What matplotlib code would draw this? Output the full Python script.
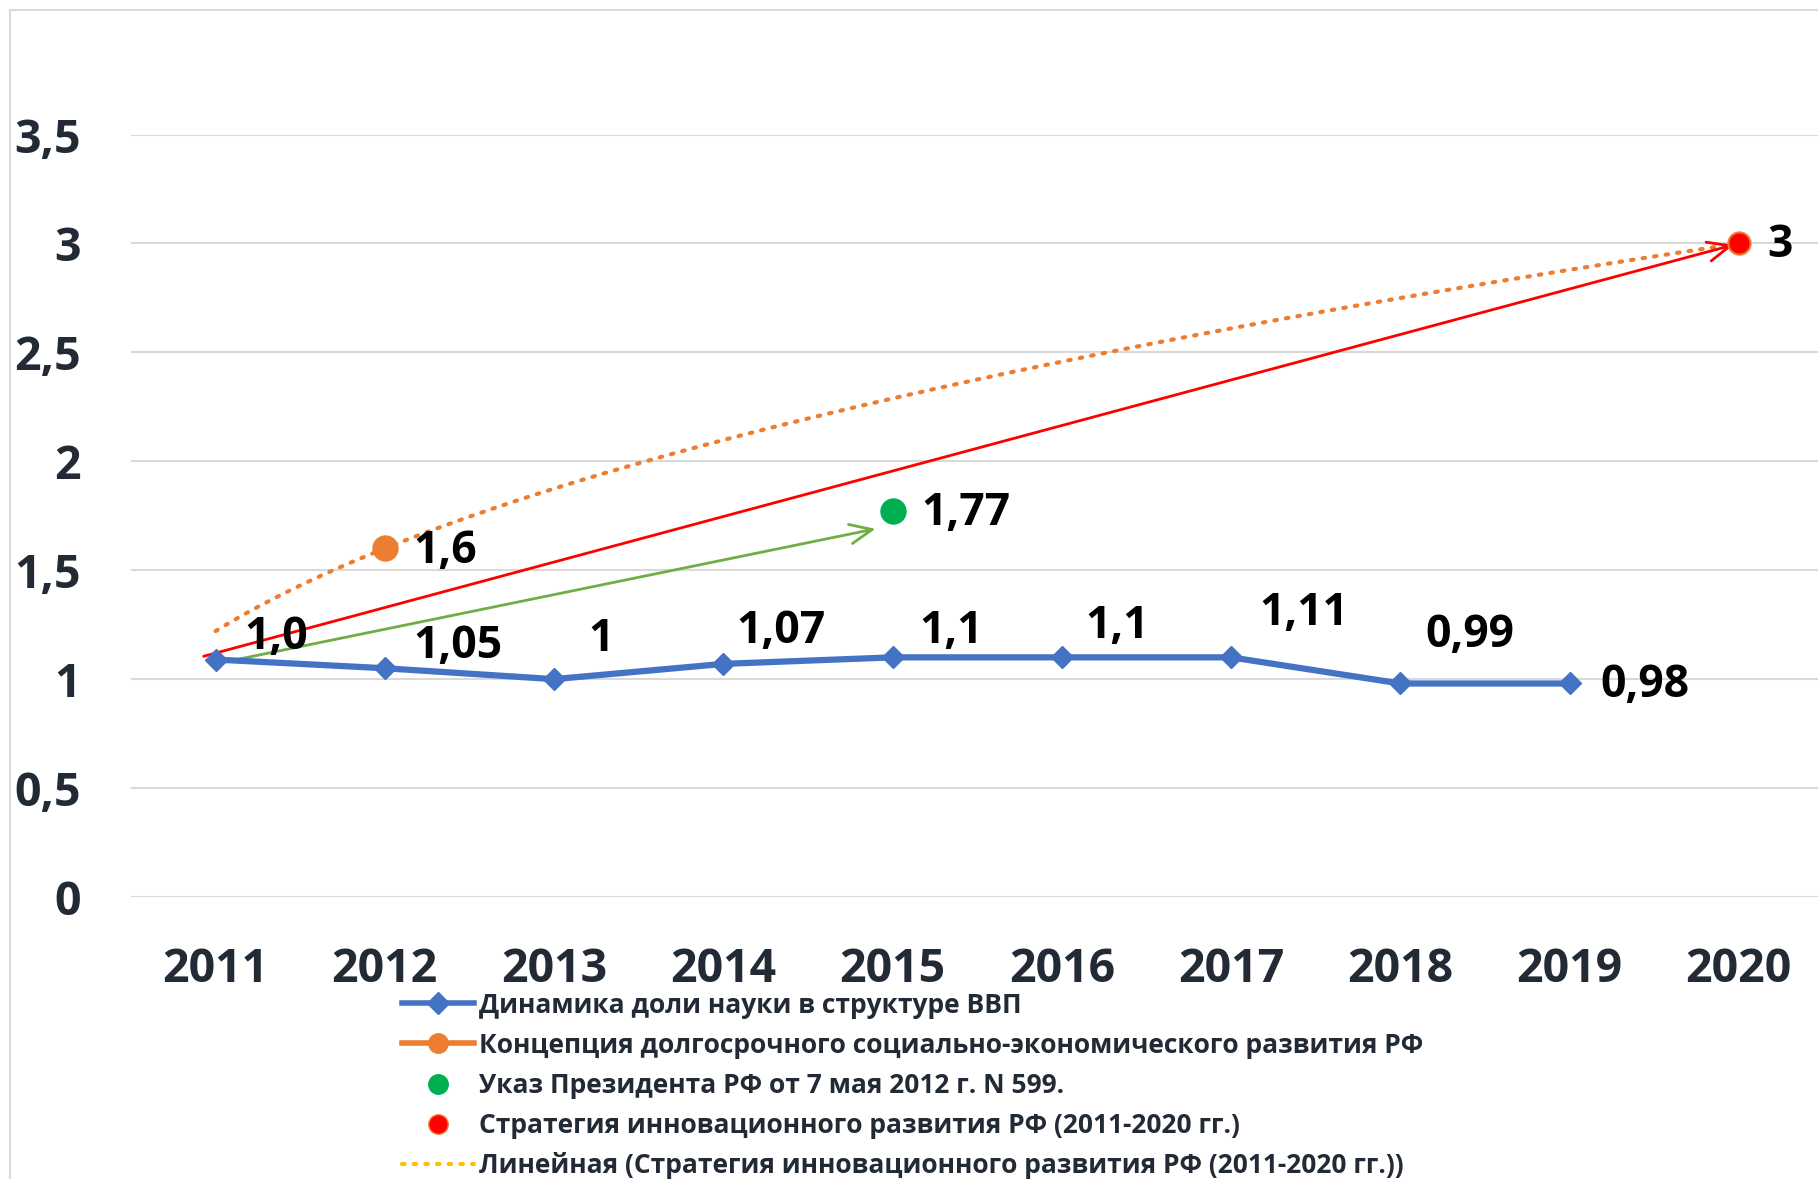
import numpy as np
import matplotlib
matplotlib.use("Agg")
import matplotlib.pyplot as plt
from matplotlib.lines import Line2D
from matplotlib.patches import Rectangle

plt.rcParams['font.family'] = ['Open Sans', 'DejaVu Sans']

# данные
years = [2011, 2012, 2013, 2014, 2015, 2016, 2017, 2018, 2019, 2020]
gdp_years = [2011, 2012, 2013, 2014, 2015, 2016, 2017, 2018, 2019]
gdp_share = [1.09, 1.05, 1.0, 1.07, 1.1, 1.1, 1.1, 0.98, 0.98]
gdp_labels = ['1,0', '1,05', '1', '1,07', '1,1', '1,1', '1,11', '0,99', '0,98']

concept_year, concept_value, concept_label = 2012, 1.6, '1,6'
decree_year, decree_value, decree_label = 2015, 1.77, '1,77'
strategy_year, strategy_value, strategy_label = 2020, 3.0, '3'

y_ticks = [0, 0.5, 1, 1.5, 2, 2.5, 3, 3.5]
y_ticklabels = ['0', '0,5', '1', '1,5', '2', '2,5', '3', '3,5']

legend_names = ['Динамика доли науки в структуре ВВП',
                'Концепция долгосрочного социально-экономического развития РФ',
                'Указ Президента РФ от 7 мая 2012 г. N 599.',
                'Стратегия инновационного развития РФ (2011-2020 гг.)',
                'Линейная (Стратегия инновационного развития РФ (2011-2020 гг.))']

# смещения подписей (в единицах данных)
gdp_label_dx = [0.17, 0.17, 0.2, 0.08, 0.16, 0.14, 0.17, 0.15, 0.18]
gdp_label_dy = [0.10, 0.10, 0.18, 0.15, 0.12, 0.14, 0.20, 0.22, -0.01]

blue = '#4472C4'
orange = '#ED7D31'
green = '#00B050'
red = '#FF0000'
txt = '#222a35'

fig = plt.figure(figsize=(18.18, 11.79), dpi=100)
ax = fig.add_axes([0.072, 0.2392, 0.931, 0.6467])

# рамка диаграммы
fig.patches.append(Rectangle((10 / 1818, -0.1), 1.2, 1 - 10 / 1179 + 0.1,
                             transform=fig.transFigure, fill=False,
                             edgecolor='#d9d9d9', linewidth=1.5, zorder=0))

ax.set_xlim(2010.5, 2020.5)
ax.set_ylim(0, 3.5)
for v in y_ticks:
    ax.axhline(v, color='#d9d9d9', linewidth=1.5, zorder=0)
for s in ax.spines.values():
    s.set_visible(False)
ax.set_yticks(y_ticks)
ax.set_yticklabels(y_ticklabels)
ax.set_xticks(years)
ax.set_xticklabels([str(y) for y in years])
ax.tick_params(axis='both', length=0, labelsize=33.5, labelcolor=txt)
ax.tick_params(axis='y', pad=36)
ax.tick_params(axis='x', pad=35)
for t in ax.get_xticklabels() + ax.get_yticklabels():
    t.set_fontweight('bold')

# степенная линия тренда через точки концепции и стратегии
xi = np.array([years.index(concept_year) + 1, years.index(strategy_year) + 1], dtype=float)
yi = np.array([concept_value, strategy_value])
b, lna = np.polyfit(np.log(xi), np.log(yi), 1)
xs = np.linspace(1, len(years), 200)
ax.plot(years[0] + xs - 1, np.exp(lna) * xs ** b, color=orange, linestyle=(0, (0.6, 2.2)),
        linewidth=3, dash_capstyle='round', zorder=2)

# стрелки
ax.annotate('', xy=(strategy_year, strategy_value), xytext=(years[0] - 0.07, gdp_share[0] + 0.015),
            arrowprops=dict(arrowstyle='->, head_length=0.8, head_width=0.35', color=red,
                            linewidth=2, shrinkA=0, shrinkB=4, mutation_scale=20), zorder=3)
ax.annotate('', xy=(decree_year - 0.1, decree_value - 0.08), xytext=(years[0], gdp_share[0] - 0.02),
            arrowprops=dict(arrowstyle='->, head_length=0.8, head_width=0.35', color='#70AD47',
                            linewidth=2, shrinkA=0, shrinkB=0, mutation_scale=20), zorder=3)

ax.plot(gdp_years, gdp_share, color=blue, linewidth=4.5, marker='D', markersize=11, zorder=4)
ax.plot([concept_year], [concept_value], 'o', color=orange, markersize=18, zorder=5)
ax.plot([decree_year], [decree_value], 'o', color=green, markersize=18, zorder=5)
ax.plot([strategy_year], [strategy_value], 'o', color=red, markeredgecolor=orange,
        markeredgewidth=1.5, markersize=16, zorder=5)

for x, y, lab, dx, dy in zip(gdp_years, gdp_share, gdp_labels, gdp_label_dx, gdp_label_dy):
    ax.text(x + dx, y + dy, lab, fontsize=32, fontweight='bold', color='black',
            ha='left', va='center', zorder=6)
ax.text(concept_year + 0.17, concept_value - 0.015, concept_label, fontsize=32,
        fontweight='bold', ha='left', va='center', zorder=6)
ax.text(decree_year + 0.17, decree_value - 0.01, decree_label, fontsize=32,
        fontweight='bold', ha='left', va='center', zorder=6)
ax.text(strategy_year + 0.17, strategy_value - 0.01, strategy_label, fontsize=32,
        fontweight='bold', ha='left', va='center', zorder=6, clip_on=False)

handles = [
    Line2D([], [], color=blue, linewidth=4, marker='D', markersize=11),
    Line2D([], [], color=orange, linewidth=4, marker='o', markersize=14),
    Line2D([], [], color=green, linestyle='none', marker='o', markersize=14),
    Line2D([], [], color=red, markeredgecolor=orange, linestyle='none', marker='o', markersize=14),
    Line2D([], [], color='#FFC000', linewidth=3, linestyle=(0, (0.6, 2.2)), dash_capstyle='round'),
]
leg = fig.legend(handles, legend_names, loc='upper left', bbox_to_anchor=(0.221, 0.159),
                 frameon=False, fontsize=19, handlelength=2.73, handletextpad=0.2,
                 labelspacing=0.5, borderpad=0, borderaxespad=0)
for t in leg.get_texts():
    t.set_fontweight('bold')
    t.set_color(txt)

fig.savefig('out.png', dpi=100)
